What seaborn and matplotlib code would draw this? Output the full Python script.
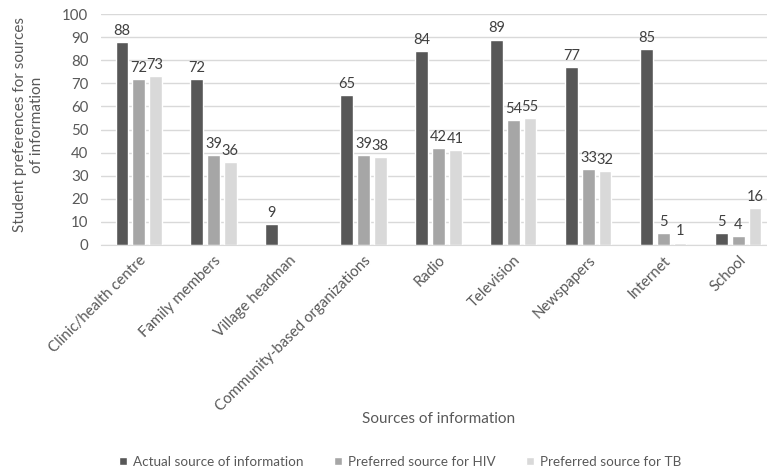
import numpy as np
import pandas as pd
import seaborn as sns
import matplotlib.pyplot as plt

categories = ["Clinic/health centre", "Family members", "Village headman",
              "Community-based organizations", "Radio", "Television",
              "Newspapers", "Internet", "School"]
actual = [88, 72, 9, 65, 84, 89, 77, 85, 5]
pref_hiv = [72, 39, np.nan, 39, 42, 54, 33, 5, 4]
pref_tb = [73, 36, np.nan, 38, 41, 55, 32, 1, 16]
series = ["Actual source of information", "Preferred source for HIV", "Preferred source for TB"]
colors = ["#575757", "#a6a6a6", "#d9d9d9"]

df = pd.DataFrame({
    "Category": categories * 3,
    "Series": [series[0]] * 9 + [series[1]] * 9 + [series[2]] * 9,
    "Value": actual + pref_hiv + pref_tb,
})

sns.set_style("white")
plt.rcParams['font.family'] = ['Lato', 'DejaVu Sans']
txt = "#595959"

fig, ax = plt.subplots(figsize=(7.67, 4.71), dpi=100)
fig.subplots_adjust(left=0.1317, right=1.0117, top=0.97, bottom=0.48)

sns.barplot(data=df, x="Category", y="Value", hue="Series", palette=colors,
            width=0.667, gap=0.24, ax=ax, legend=True, saturation=1)

for cont in ax.containers:
    labels = ["" if np.isnan(v) else f"{v:.0f}" for v in cont.datavalues]
    ax.bar_label(cont, labels=labels, padding=3, fontsize=10.5, color="#404040")

ax.set_ylim(0, 100)
ax.set_yticks(range(0, 101, 10))
ax.yaxis.grid(True, color="#d9d9d9", linewidth=1)
ax.set_axisbelow(True)
for s in ["top", "right", "left"]:
    ax.spines[s].set_visible(False)
ax.spines["bottom"].set_color("#d9d9d9")
ax.tick_params(axis="both", length=0, colors=txt, labelsize=10.8)
ax.tick_params(axis="y", pad=9)
ax.tick_params(axis="x", pad=6)
ax.set_xticks(range(len(categories)))
ax.set_xticklabels(categories, rotation=45, ha="right", rotation_mode="anchor", color=txt)
ax.set_ylabel("Student preferences for sources\nof information", fontsize=11, color=txt)
ax.yaxis.set_label_coords(-0.085, 0.52)
ax.set_xlabel("Sources of information", fontsize=11, color=txt)
ax.xaxis.set_label_coords(0.5, -0.725)

ax.legend(loc="center", bbox_to_anchor=(0.443, -0.94), ncol=3, frameon=False,
          fontsize=9.7, labelcolor=txt, handlelength=0.6, handleheight=0.6,
          columnspacing=2.3, handletextpad=0.4)

fig.savefig("out.png", dpi=100)
